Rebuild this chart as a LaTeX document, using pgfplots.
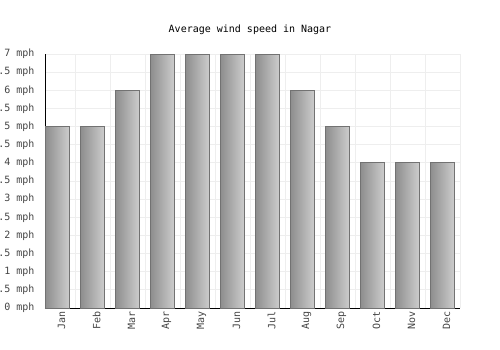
\documentclass[border=0pt]{standalone}
\usepackage{pgfplots}
\pgfplotsset{compat=1.18}
\usepackage{fontspec}
\setmainfont{DejaVu Sans Mono}
\definecolor{gridc}{HTML}{EEEEEE}
\definecolor{barl}{HTML}{8E8E8E}
\definecolor{barr}{HTML}{CDCDCD}
\definecolor{barb}{HTML}{727272}
\definecolor{txt}{HTML}{444444}
\begin{document}
\begin{tikzpicture}
\begin{axis}[
  name=ax,
  scale only axis,
  width=415bp, height=254bp,
  xmin=-0.36, xmax=11.5,
  ymin=0, ymax=7,
  axis x line*=bottom, axis y line*=left,
  axis line style={black, line width=0.9bp},
  xtick={0,...,11},
  xticklabels={Jan,Feb,Mar,Apr,May,Jun,Jul,Aug,Sep,Oct,Nov,Dec},
  minor xtick={0.5,1.5,...,11.5},
  xmajorgrids=false, xminorgrids=true,
  ytick={0,0.5,...,7},
  yticklabels={0 mph,0.5 mph,1 mph,1.5 mph,2 mph,2.5 mph,3 mph,3.5 mph,4 mph,4.5 mph,5 mph,5.5 mph,6 mph,6.5 mph,7 mph},
  ymajorgrids=true,
  grid style={gridc, line width=0.8bp},
  major tick length=0pt, minor tick length=0pt,
  tick style={draw=none},
  xticklabel style={rotate=90, anchor=east, font=\fontsize{10bp}{12bp}\selectfont, text=txt, yshift=-4bp},
  yticklabel style={font=\fontsize{10bp}{12bp}\selectfont, text=txt, xshift=-7bp},
  /pgf/number format/assume math mode=true,
  clip=false,
  bs/.style={ybar, bar shift=0pt, bar width=24/415*11.86, draw=barb, line width=0.8bp, left color=barl, right color=barr, forget plot},
]
\addplot[bs] coordinates {(0,5)};
\addplot[bs] coordinates {(1,5)};
\addplot[bs] coordinates {(2,6)};
\addplot[bs] coordinates {(3,7)};
\addplot[bs] coordinates {(4,7)};
\addplot[bs] coordinates {(5,7)};
\addplot[bs] coordinates {(6,7)};
\addplot[bs] coordinates {(7,6)};
\addplot[bs] coordinates {(8,5)};
\addplot[bs] coordinates {(9,4)};
\addplot[bs] coordinates {(10,4)};
\addplot[bs] coordinates {(11,4)};
\end{axis}
\node[font=\fontsize{10bp}{12bp}\selectfont, black] at ([xshift=205bp,yshift=278bp]ax.south west) {Average wind speed in Nagar};
\pgfresetboundingbox
\useasboundingbox ([xshift=-45bp,yshift=-42bp]ax.south west) rectangle ++(500bp,350bp);
\end{tikzpicture}
\end{document}
